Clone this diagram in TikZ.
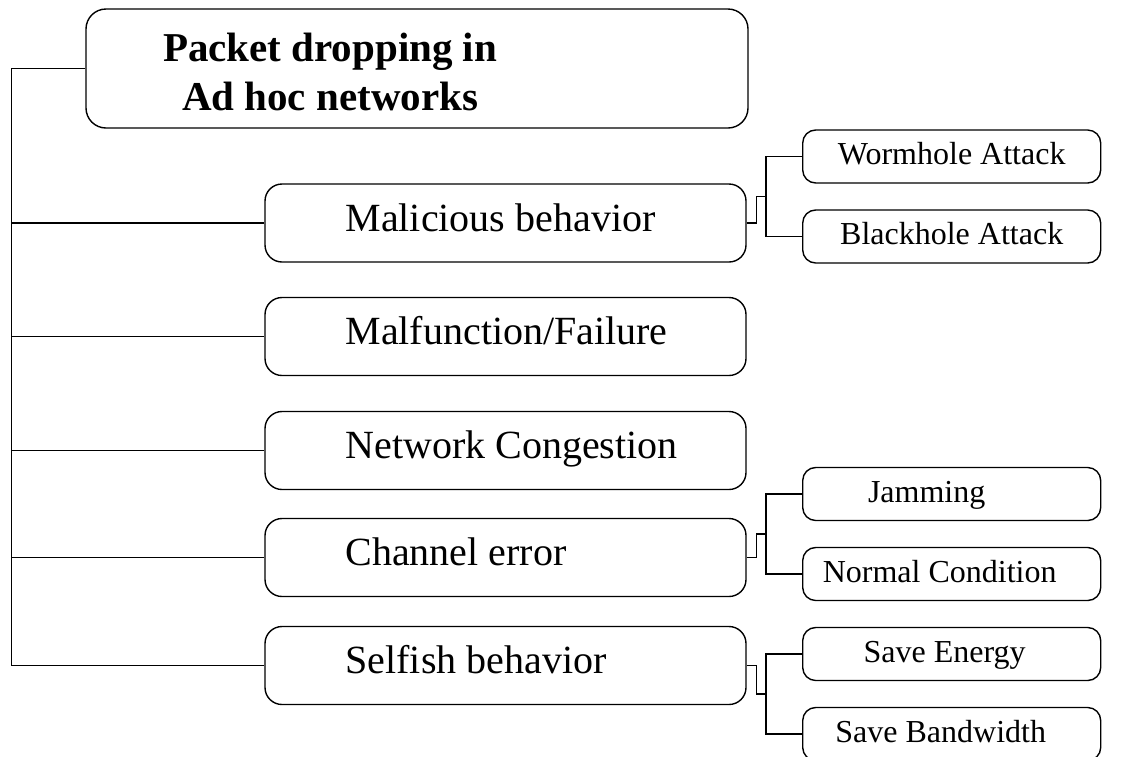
\documentclass[tikz,border=0pt]{standalone}
\usepackage{fontspec}
\setmainfont{Liberation Serif}
\usetikzlibrary{calc}
\usetikzlibrary{positioning}
\newcommand{\causetext}[1]{\makebox[320pt][l]{#1}}

\begin{document}
\begin{tikzpicture}[x=1pt,y=1pt,line width=1.4pt,
	rootbox/.style={draw,rounded corners=20pt,minimum width=662pt,minimum height=119pt},
	titletext/.style={align=center,inner sep=0pt,font=\fontsize{41}{49}\selectfont\bfseries},
	causebox/.style={draw,rounded corners=17pt,minimum width=481pt,minimum height=78pt,
		inner xsep=0pt,text height=30pt,text depth=14pt,font=\fontsize{40}{48}\selectfont},
	leafbox/.style={draw,rounded corners=13pt,anchor=west,minimum width=298pt,minimum height=53pt,
		text height=24pt,text depth=8pt,font=\fontsize{32}{38}\selectfont}]
	\useasboundingbox (0,0) rectangle (1132,-756);

	\node[rootbox] (root) at (417,-68.5) {};
	\node[titletext,anchor=west] (title) at ([xshift=77pt,yshift=-3.5pt]root.west) {Packet dropping in\\Ad hoc networks};

	\node[causebox] (malicious) at (505.5,-223) {\causetext{Malicious behavior}};
	\node[causebox] (failure) at (505.5,-336.5) {\causetext{Malfunction/Failure}};
	\node[causebox] (congestion) at (505.5,-450.5) {\causetext{Network Congestion}};
	\node[causebox] (channel) at (505.5,-557.5) {\causetext{Channel error}};
	\node[causebox] (selfish) at (505.5,-665.5) {\causetext{Selfish behavior}};

	\node[leafbox] (wormhole) at (802,-156.5) {Wormhole Attack};
	\node[leafbox] (blackhole) at (802,-236.5) {Blackhole Attack};
	\node[leafbox] (jamming) at (802,-494) {Jamming\hspace*{50pt}};
	\node[leafbox] (normal) at (802,-574) {Normal Condition\hspace*{24pt}};
	\node[leafbox] (energy) at (802,-654) {Save Energy\hspace*{14pt}};
	\node[leafbox] (bandwidth) at (802,-734) {Save Bandwidth\hspace*{22pt}};

	% trunk
	\draw (root.west) -- ++(-74,0) coordinate (trunk) |- (selfish.west);
	\foreach \n in {malicious,failure,congestion,channel}
		\draw (trunk |- \n.west) -- (\n.west);

	% sub branches
	\coordinate (mj) at ($(wormhole.west)!0.5!(blackhole.west)+(-36,0)$);
	\draw (malicious.east) -- ++(10,0) |- (mj);
	\draw (wormhole.west) -| (mj) |- (blackhole.west);

	\coordinate (cj) at ($(jamming.west)!0.5!(normal.west)+(-36,0)$);
	\draw (channel.east) -- ++(10,0) |- (cj);
	\draw (jamming.west) -| (cj) |- (normal.west);

	\coordinate (sj) at ($(energy.west)!0.5!(bandwidth.west)+(-36,0)$);
	\draw (selfish.east) -- ++(10,0) |- (sj);
	\draw (energy.west) -| (sj) |- (bandwidth.west);
\end{tikzpicture}
\end{document}
